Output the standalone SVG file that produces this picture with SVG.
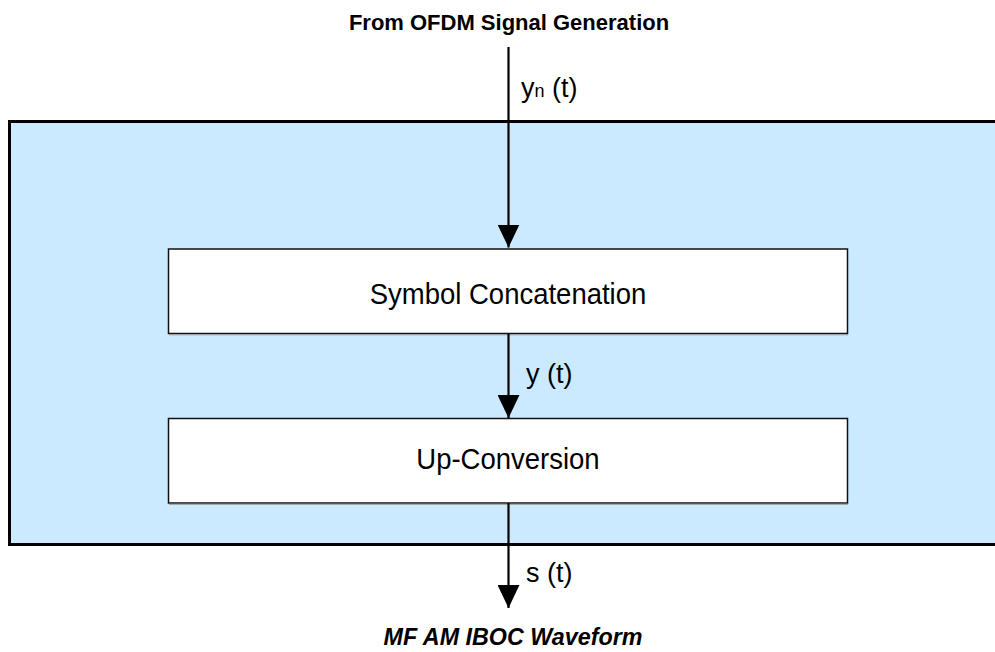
<svg xmlns="http://www.w3.org/2000/svg" width="995" height="652" viewBox="0 0 995 652">
<defs>
<style>
text{font-family:"Liberation Sans",Arial,sans-serif;fill:#000}
.box{fill:#fff;stroke:#111;stroke-width:1.5}
.shadow{fill:none;stroke:#999;stroke-width:1}
.lbl{font-size:27px}
.title{font-size:22px;font-weight:bold;text-anchor:middle}
.node{font-size:27.5px;text-anchor:middle}
.conn{stroke:#000;stroke-width:2.2;fill:none}
</style>
<marker id="ah" markerWidth="23" markerHeight="22" refX="23" refY="11" orient="auto" markerUnits="userSpaceOnUse">
<path d="M0,0 L23,11 L0,22 Z" fill="#000"/>
</marker>
</defs>
<rect width="995" height="652" fill="#fff"/>
<g id="container">
<rect x="9.5" y="121.5" width="1000" height="423" fill="#cceaff" stroke="#000" stroke-width="3"/>
</g>
<g id="symbol-concatenation">
<rect class="box" x="168.5" y="249" width="679" height="84.5"/>
<line class="shadow" x1="169" y1="334.8" x2="848" y2="334.8"/>
<text class="node" x="508" y="304" transform="translate(0,304) scale(1,1.08) translate(0,-304)">Symbol Concatenation</text>
</g>
<g id="up-conversion">
<rect class="box" x="168.5" y="418.5" width="679" height="84.5"/>
<line class="shadow" x1="169" y1="504.3" x2="848" y2="504.3"/>
<text class="node" x="508" y="469" transform="translate(0,469) scale(1,1.08) translate(0,-469)">Up-Conversion</text>
</g>
<g id="connectors">
<line class="conn" x1="508.5" y1="47" x2="508.5" y2="247.5" marker-end="url(#ah)"/>
<line class="conn" x1="508.5" y1="334" x2="508.5" y2="418" marker-end="url(#ah)"/>
<line class="conn" x1="508.5" y1="503" x2="508.5" y2="608" marker-end="url(#ah)"/>
</g>
<g id="labels">
<text class="title" x="509" y="30">From OFDM Signal Generation</text>
<text class="lbl" x="521" y="97">y<tspan font-size="18">n</tspan> (t)</text>
<text class="lbl" x="526" y="383">y (t)</text>
<text class="lbl" x="526" y="582">s (t)</text>
<text x="513" y="645" font-size="23.3" font-weight="bold" font-style="italic" text-anchor="middle">MF AM IBOC Waveform</text>
</g>
</svg>
